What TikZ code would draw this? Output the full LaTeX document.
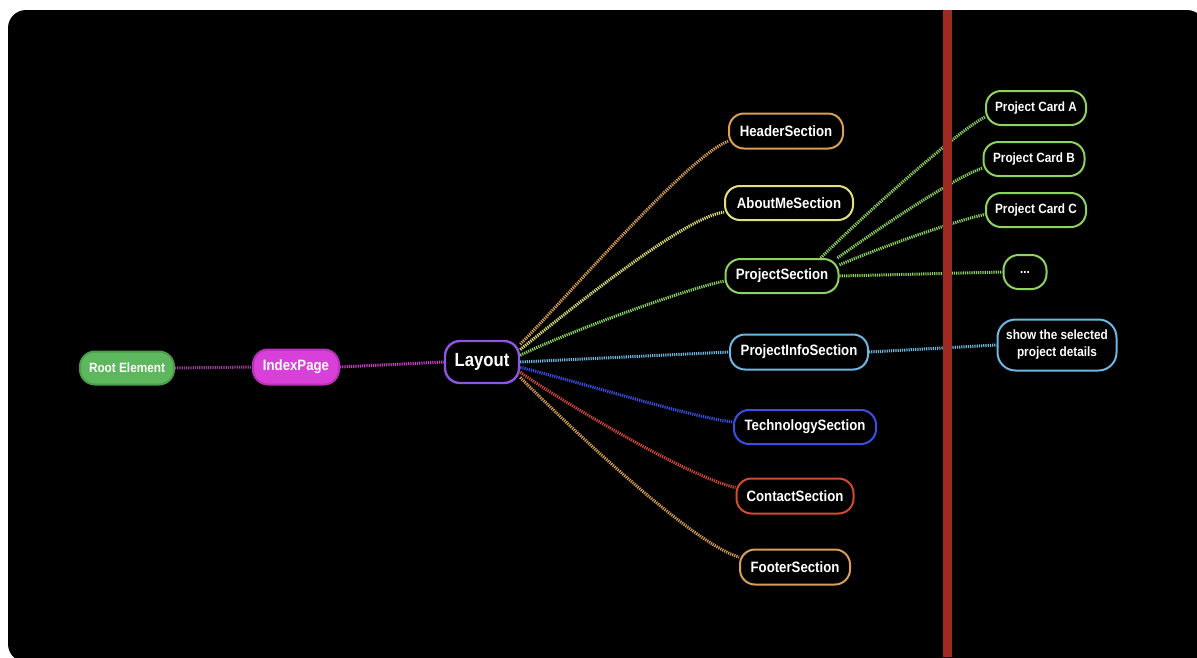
\documentclass[tikz,border=0pt]{standalone}
\usepackage{fontspec}
\setmainfont{Liberation Sans}[FakeStretch=0.88]
\definecolor{rootf}{HTML}{5DB85D}
\definecolor{rootb}{HTML}{4A9E4A}
\definecolor{idxf}{HTML}{D93FD9}
\definecolor{idxb}{HTML}{B832B8}
\definecolor{laycol}{HTML}{8E55E0}
\definecolor{rootline}{HTML}{9A3F9E}
\definecolor{idxline}{HTML}{C83DC8}
\definecolor{hdrcol}{HTML}{D9A055}
\definecolor{aboutcol}{HTML}{E3E07A}
\definecolor{projcol}{HTML}{8DD35F}
\definecolor{infocol}{HTML}{6DB8E0}
\definecolor{techcol}{HTML}{3A50E5}
\definecolor{contcol}{HTML}{D24A38}
\definecolor{footcol}{HTML}{D9A055}
\definecolor{barcol}{HTML}{9E2A22}
\tikzset{
  box/.style={draw, line width=2pt, rounded corners=15pt, fill=black, text=white,
    font=\bfseries\fontsize{15}{17}\selectfont, inner sep=0pt, align=center},
  small/.style={font=\bfseries\fontsize{13.4}{15}\selectfont},
  link/.style={line width=3pt, dash pattern=on 1.2pt off 1pt},
}
\begin{document}
\begin{tikzpicture}[x=1pt,y=-1pt]
\useasboundingbox (0,0) rectangle (1197,657);
\clip (0,0) rectangle (1197,657);
\fill[white] (0,0) rectangle (1197,657);
\fill[black, rounded corners=18pt] (8,10) rectangle (1205,662);

% nodes
\node[box, small, draw=rootb, fill=rootf, minimum width=94pt, minimum height=33pt] (root) at (127,368) {Root Element};
\node[box, draw=idxb, fill=idxf, minimum width=86pt, minimum height=35pt] (idx) at (296,367) {IndexPage};
\node[box, draw=laycol, line width=2.4pt, minimum width=74pt, minimum height=42pt,
      font=\bfseries\fontsize{19}{21}\selectfont] (lay) at (482,362) {Layout};

\node[box, draw=hdrcol, minimum width=114pt, minimum height=35pt] (hdr) at (786,131) {HeaderSection};
\node[box, draw=aboutcol, minimum width=128pt, minimum height=34pt] (about) at (789,203) {AboutMeSection};
\node[box, draw=projcol, minimum width=113pt, minimum height=34pt] (proj) at (782,276) {ProjectSection};
\node[box, draw=infocol, minimum width=138pt, minimum height=35pt] (info) at (799,352) {ProjectInfoSection};
\node[box, draw=techcol, minimum width=142pt, minimum height=34pt] (tech) at (805,427) {TechnologySection};
\node[box, draw=contcol, minimum width=117pt, minimum height=35pt] (cont) at (795,496) {ContactSection};
\node[box, draw=footcol, minimum width=110pt, minimum height=35pt] (foot) at (795,567) {FooterSection};

\node[box, small, draw=projcol, minimum width=100pt, minimum height=34pt] (cardA) at (1036,108) {Project Card A};
\node[box, small, draw=projcol, minimum width=101pt, minimum height=34pt] (cardB) at (1034,159) {Project Card B};
\node[box, small, draw=projcol, minimum width=100pt, minimum height=34pt] (cardC) at (1036,210) {Project Card C};
\node[box, small, draw=projcol, minimum width=43pt, minimum height=34pt] (more) at (1025,272) {...};
\node[box, small, draw=infocol, rounded corners=18pt, minimum width=119pt, minimum height=51pt,
      font=\bfseries\fontsize{13.4}{17}\selectfont] (show) at (1057,345) {show the selected\\project details};

% connectors
\draw[link, rootline] (root.east) -- (idx.west);
\draw[link, idxline] (idx.east) -- (lay.west);

\draw[link, hdrcol] (lay.25) .. controls +(45,-45) and +(-40,15) .. (hdr.190);
\draw[link, aboutcol] (lay.18) .. controls +(50,-40) and +(-40,5) .. (about.188);
\draw[link, projcol] (lay.10) .. controls +(40,-20) and +(-40,8) .. (proj.185);
\draw[link, infocol] (lay.0) -- (info.west);
\draw[link, techcol] (lay.-8) .. controls +(50,12) and +(-40,-4) .. (tech.176);
\draw[link, contcol] (lay.-15) .. controls +(40,28) and +(-50,-12) .. (cont.172);
\draw[link, footcol] (lay.-22) .. controls +(40,40) and +(-50,-15) .. (foot.170);

\draw[link, projcol] (proj.25) .. controls +(30,-30) and +(-30,15) .. (cardA.190);
\draw[link, projcol] (proj.18) .. controls +(35,-25) and +(-30,10) .. (cardB.190);
\draw[link, projcol] (proj.11) .. controls +(35,-15) and +(-30,6) .. (cardC.185);
\draw[link, projcol] (proj.east) -- (more.west);
\draw[link, infocol] (info.east) -- (show.west);

% divider bar
\fill[barcol] (943,10) rectangle (952,657);
\end{tikzpicture}
\end{document}
